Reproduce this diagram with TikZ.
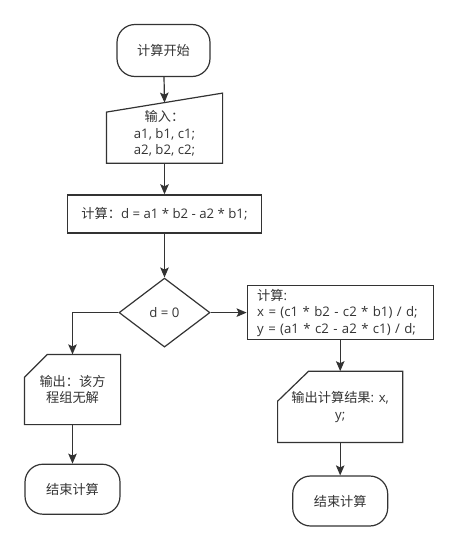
\documentclass[tikz,border=0pt]{standalone}
\usepackage{fontspec}
\setmainfont{Open Sans}
\newfontfamily\cjk{Noto Sans CJK SC}
\usepackage{tikz}
\usetikzlibrary{positioning, arrows.meta, calc, shapes.geometric}
\definecolor{linea}{HTML}{333333}

\begin{document}
\begin{tikzpicture}[
			x=1pt, y=-1pt,
			font=\fontsize{13.2}{16.5}\selectfont,
			term/.style={rectangle, draw=linea, rounded corners=18pt, minimum width=93pt, minimum height=52pt, inner sep=0pt, text=linea},
			box/.style={rectangle, draw=linea, minimum height=38pt, inner sep=0pt, text=linea},
			cond/.style={diamond, draw=linea, minimum width=91pt, minimum height=69pt, inner sep=0pt, text=linea},
			shp/.style={rectangle, inner sep=0pt, align=center, text=linea},
			outline/.style={draw=linea, line join=miter},
			line width=1.2pt,
			>={Stealth[length=10pt, width=8.5pt, inset=2pt]}
			]
			\useasboundingbox (0,0) rectangle (457,546);
			
			% 开始
			\node[term] (start) at (163.5,50.5) {\cjk 计算开始};
			
			% 输入
			\node[shp, minimum width=115pt, minimum height=58pt] (inp) [below=27pt of start, xshift=1pt] {{\cjk 输入：}\\a1, b1, c1;\\a2, b2, c2;};
			\draw[outline] (inp.south west) -- ($(inp.north west)+(0,8)$) -- ($(inp.north east)+(0,-11)$) -- (inp.south east) -- cycle;
			\coordinate (inpTop) at ($($(inp.north west)+(0,8)$)!0.5!($(inp.north east)+(0,-11)$)$);
			\draw[->, draw=linea] (start) -- (inpTop);
			
			% 计算 d
			\node[box, minimum width=194pt] (calcD) [below=31pt of inp] {{\cjk 计算：}d = a1 * b2 - a2 * b1;};
			\draw[->, draw=linea] (inp) -- (calcD);
			
			% 判断
			\node[cond] (dec) [below=44pt of calcD] {d = 0};
			\draw[->, draw=linea] (calcD) -- (dec);
			
			% 计算 x, y
			\node[box, minimum width=186pt, minimum height=54pt, text width=166pt, inner xsep=10pt, align=left] (calcR) [right=36pt of dec] {{\cjk 计算}:\\x = (c1 * b2 - c2 * b1) / d;\\y = (a1 * c2 - a2 * c1) / d;};
			\draw[->, draw=linea] (dec) -- (calcR);
			
			% 无解
			\node[shp, minimum width=95pt, minimum height=69pt] (outL) at (72.5,389.5) {\cjk 输出：该方\\\cjk 程组无解};
			\draw[outline] (outL.south west) -- ($(outL.north west)+(0,23)$) -- ($(outL.north west)+(23,0)$) -- (outL.north east) -- (outL.south east) -- cycle;
			\draw[->, draw=linea] (dec.west) -| (outL.north);
			
			% 输出结果
			\node[shp, minimum width=124pt, minimum height=70pt] (outR) [below=31pt of calcR] {{\cjk 输出计算结果}: x,\\y;};
			\draw[outline] (outR.south west) -- ($(outR.north west)+(0,30)$) -- ($(outR.north west)+(31,0)$) -- (outR.north east) -- (outR.south east) -- cycle;
			\draw[->, draw=linea] (calcR) -- (outR);
			
			% 结束
			\node[term, minimum width=95pt, minimum height=50pt] (endL) [below=39pt of outL] {\cjk 结束计算};
			\draw[->, draw=linea] (outL) -- (endL);
			\node[term, minimum width=95pt, minimum height=50pt] (endR) [below=33pt of outR] {\cjk 结束计算};
			\draw[->, draw=linea] (outR) -- (endR);
			
		\end{tikzpicture}
\end{document}
